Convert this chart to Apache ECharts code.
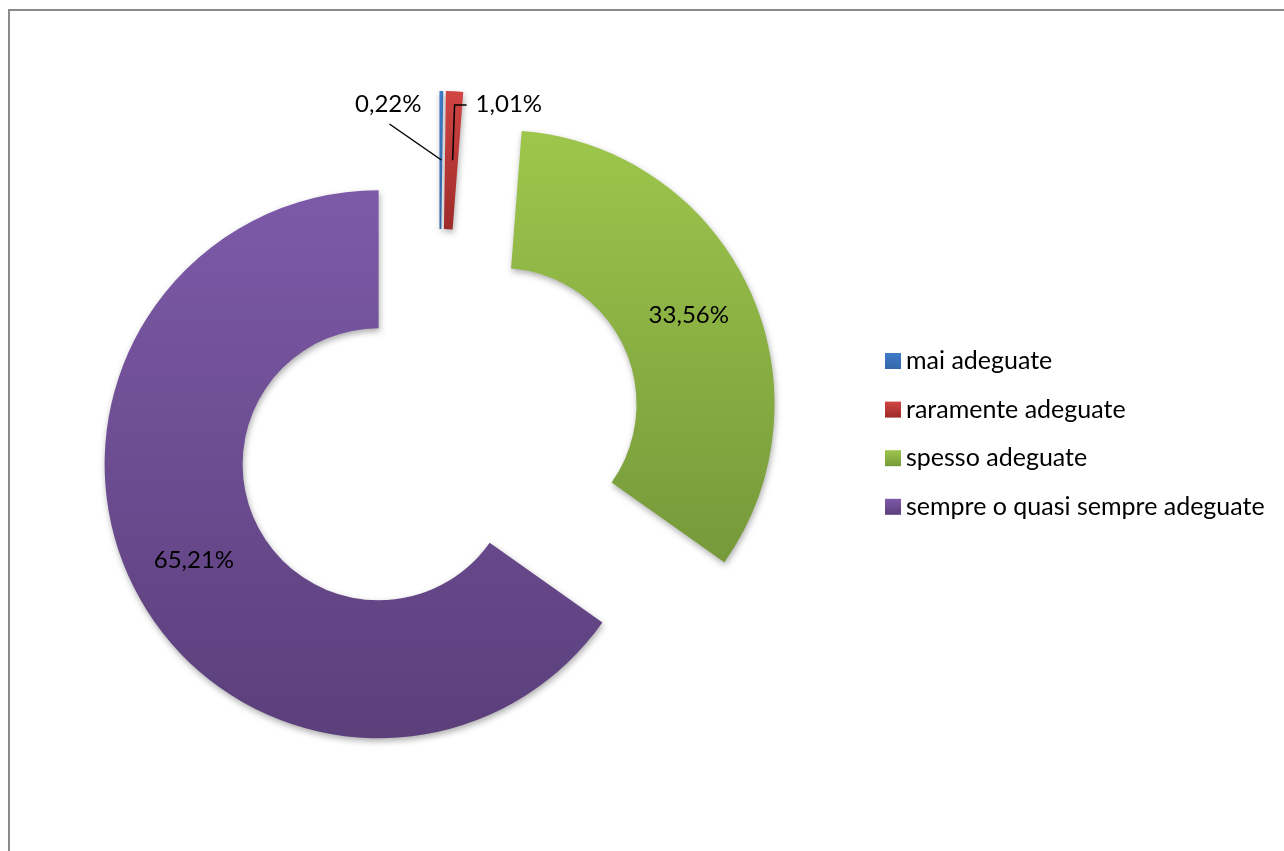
<!DOCTYPE html>
<html>
<head>
<meta charset="utf-8">
<script src="https://cdn.jsdelivr.net/npm/echarts@6/dist/echarts.min.js"></script>
<style>
  html, body { margin: 0; padding: 0; background: #ffffff; }
  #chart { width: 1284px; height: 851px; }
</style>
</head>
<body>
<div id="chart"></div>
<script>
// Categories and their shares (percent)
const categories = ['mai adeguate', 'raramente adeguate', 'spesso adeguate', 'sempre o quasi sempre adeguate'];
const shares = [0.22, 1.01, 33.56, 65.21];

// Slice fills: light at the top, darker at the bottom
const topColors = ['#3f7bc8', '#d24543', '#9ec64c', '#7d5aa8'];
const bottomColors = ['#3468ab', '#9d2b2a', '#76993a', '#5b3f7b'];

const FONT = 'Lato, "Liberation Sans", sans-serif';
const CENTER = [439, 433];
const RADIUS = [136, 274];
const EXPLODE = 68;          // distance every slice is pulled out
const SMALL = 5;             // slices below this share get an outside label

function fillFor(i) {
  return {
    type: 'linear', x: 0, y: 0, x2: 0, y2: 1,
    colorStops: [
      { offset: 0, color: topColors[i] },
      { offset: 1, color: bottomColors[i] }
    ]
  };
}

function fmt(v) {
  return v.toFixed(2).replace('.', ',') + '%';
}

// Screen displacement of an exploded slice (clockwise from 12 o'clock)
const total = shares.reduce(function (a, b) { return a + b; }, 0);
const explodeShift = (function () {
  let acc = 0;
  return shares.map(function (v) {
    const mid = (acc + v / 2) / total * Math.PI * 2;
    acc += v;
    return [EXPLODE * Math.sin(mid), -EXPLODE * Math.cos(mid)];
  });
})();

// Main ring: every slice exploded, big slices labelled inside
const ringData = categories.map(function (name, i) {
  return {
    name: name,
    value: shares[i],
    selected: true,
    itemStyle: { color: fillFor(i) },
    label: { show: shares[i] >= SMALL }
  };
});

// Label layer for the thin slices, with leader lines drawn over the ring
const calloutData = categories.map(function (name, i) {
  const small = shares[i] < SMALL;
  return {
    name: name,
    value: shares[i],
    label: { show: small },
    labelLine: { show: small }
  };
});

function calloutLayout(p) {
  const s = explodeShift[p.dataIndex];
  const r = p.rect;
  const x0 = r.x + s[0];
  const y0 = r.y + s[1];
  const cx = x0 + r.width / 2;
  const cy = y0 + r.height / 2;
  if (p.dataIndex === 0) {
    return {
      x: x0 - 18, y: y0 + 13, align: 'right', verticalAlign: 'middle',
      labelLinePoints: [[cx, cy], [x0 - 50, y0 + 33]]
    };
  }
  if (p.dataIndex === 1) {
    return {
      x: cx + 22, y: y0 + 13, align: 'left', verticalAlign: 'middle',
      labelLinePoints: [[cx - 1, cy], [cx + 1, y0 + 14], [cx + 13, y0 + 14]]
    };
  }
  return {};
}

const chart = echarts.init(document.getElementById('chart'), null, { renderer: 'canvas' });

chart.setOption({
  animation: false,
  backgroundColor: '#ffffff',
  graphic: [{
    type: 'rect',
    silent: true,
    shape: { x: 9, y: 10, width: 1400, height: 1000 },
    style: { fill: null, stroke: '#8a8a8a', lineWidth: 2 }
  }],
  legend: {
    orient: 'vertical',
    left: 880,
    top: 343,
    icon: 'rect',
    itemWidth: 16,
    itemHeight: 16,
    itemGap: 22.6,
    selectedMode: false,
    data: categories,
    textStyle: { fontFamily: FONT, fontSize: 25, color: '#000000', lineHeight: 26 }
  },
  series: [{
    type: 'pie',
    z: 2,
    center: CENTER,
    radius: RADIUS,
    startAngle: 90,
    clockwise: true,
    selectedMode: 'multiple',
    selectedOffset: EXPLODE,
    avoidLabelOverlap: false,
    emphasis: { disabled: true },
    itemStyle: {
      shadowBlur: 6,
      shadowColor: 'rgba(0,0,0,0.32)',
      shadowOffsetX: 1,
      shadowOffsetY: 3
    },
    label: {
      position: 'inside',
      fontFamily: FONT,
      fontSize: 24,
      color: '#000000',
      formatter: function (p) { return fmt(p.value); }
    },
    labelLine: { show: false },
    data: ringData
  }, {
    type: 'pie',
    z: 3,
    silent: true,
    center: CENTER,
    radius: RADIUS,
    startAngle: 90,
    clockwise: true,
    avoidLabelOverlap: false,
    emphasis: { disabled: true },
    itemStyle: { color: 'rgba(0,0,0,0)' },
    label: {
      position: 'outside',
      fontFamily: FONT,
      fontSize: 24,
      color: '#000000',
      formatter: function (p) { return fmt(p.value); }
    },
    labelLine: {
      showAbove: true,
      lineStyle: { color: '#000000', width: 1.5 }
    },
    labelLayout: calloutLayout,
    data: calloutData
  }]
});
</script>
</body>
</html>
